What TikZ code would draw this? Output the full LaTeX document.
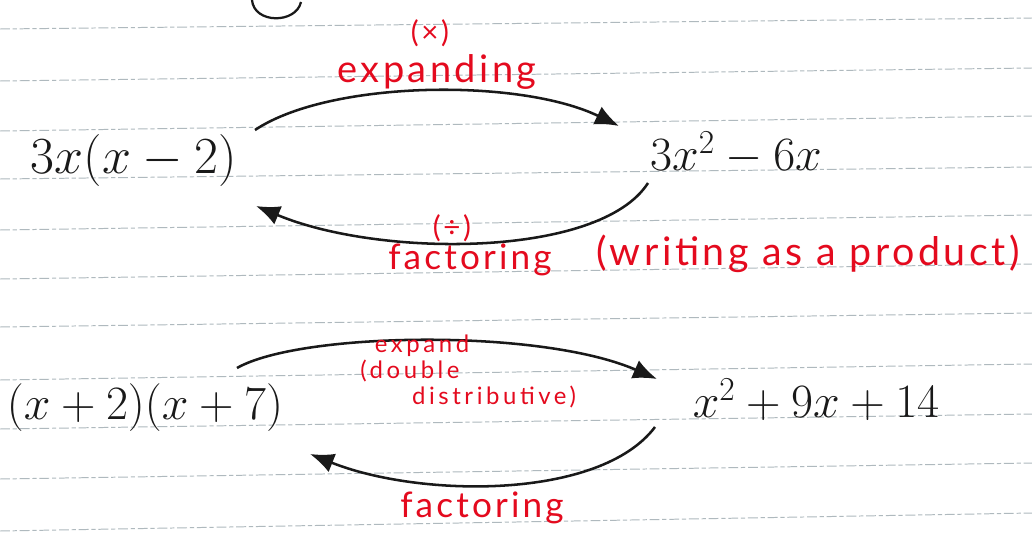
\documentclass[tikz,border=0pt]{standalone}
\usepackage{fix-cm}
\usepackage{fontspec}
\setmainfont{Lato}
\newfontfamily\hand[LetterSpace=9]{Lato}
\newfontfamily\handwide[LetterSpace=15]{Lato}
\usetikzlibrary{arrows.meta}
\definecolor{ink}{RGB}{25,25,25}
\definecolor{redink}{RGB}{228,10,30}
\definecolor{rule}{RGB}{175,185,190}
\tikzset{
  expr/.style={text=ink, inner sep=0pt, font=\fontsize{34}{40}\selectfont},
  lab/.style={text=redink, inner sep=0pt, font=\hand\fontsize{25}{26}\selectfont},
  smalllab/.style={text=redink, inner sep=0pt, font=\hand\fontsize{21}{22}\selectfont},
  tightlab/.style={text=redink, inner sep=0pt, font=\handwide\fontsize{17}{18}\selectfont},
  arc/.style={draw=ink, line width=1.8pt, -{Latex[length=17pt,width=14pt]}},
  ruled/.style={draw=rule, line width=0.7pt, dash pattern=on 7pt off 2pt on 3pt off 2pt}
}
\begin{document}
\begin{tikzpicture}[x=0.025cm,y=-0.025cm]
\useasboundingbox[fill=white] (0,0) rectangle (1032,552);
% ruled lines
\foreach \a/\b in {29/18,81/68,131/116,179/167,230/215,279/264,327/313,380/364,429/414,479/463,531/513}
  \draw[ruled] (0,\a) -- (1032,\b);
% partial circle at top
\draw[ink, line width=1.6pt] (252,0) .. controls (254,24) and (296,24) .. (301,2);
% expressions
\node[expr, font=\fontsize{37}{42}\selectfont] (n1) at (134,160) {$3x(x-2)$};
\node[expr] (n2) at (736,153) {$3x^{2}-6x$};
\node[expr] (n3) at (145,408) {$(x+2)(x+7)$};
\node[expr] (n4) at (816,400) {$x^{2}+9x+14$};
% arrow end points
\coordinate (a1s) at (255,130);
\coordinate (a1e) at (619,126);
\coordinate (b1s) at (648,183);
\coordinate (b1e) at (256,206);
\coordinate (a2s) at (237,368);
\coordinate (a2e) at (657,379);
\coordinate (b2s) at (655,427);
\coordinate (b2e) at (310,454);
% arrows
\draw[arc] (a1s) .. controls (330,80) and (520,78) .. (a1e);
\draw[arc] (b1s) .. controls (600,258) and (380,258) .. (b1e);
\draw[arc] (a2s) .. controls (300,332) and (540,328) .. (a2e);
\draw[arc] (b2s) .. controls (600,500) and (420,498) .. (b2e);
% labels
\node[smalllab] (l1) at (430,33) {(×)};
\node[lab, font=\hand\fontsize{27}{28}\selectfont] (l2) at (437,72) {expanding};
\node[smalllab] (l3) at (452,228) {(÷)};
\node[lab] (l4) at (470,260) {factoring};
\node[lab, font=\hand\fontsize{28}{30}\selectfont] (l5) at (808,254) {(writing as a product)};
\node[tightlab] (l6) at (422,346) {expand};
\node[tightlab] (l7) at (410,371) {(double};
\node[tightlab] (l8) at (494,397) {distributive)};
\node[lab] (l9) at (482,508) {factoring};
\end{tikzpicture}
\end{document}
